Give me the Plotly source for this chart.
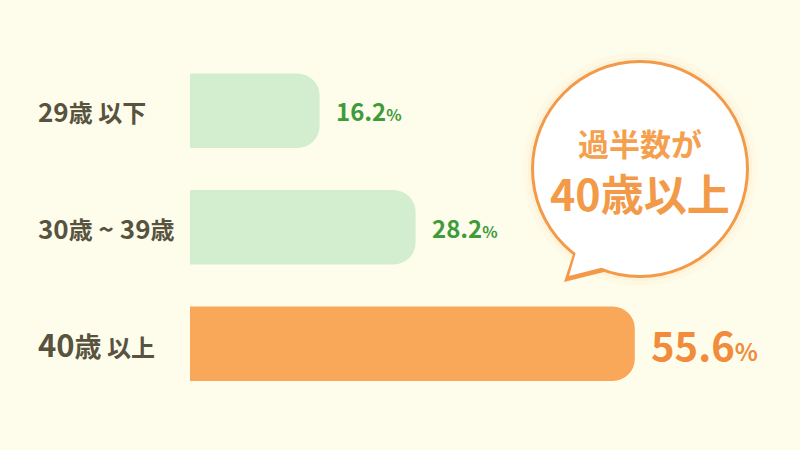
import plotly.graph_objects as go

categories = ["29歳 以下", "30歳～39歳", "40歳以上"]
values = [16.2, 28.2, 55.6]
bar_colors = ["#D3EDCF", "#D3EDCF", "#F9A859"]
value_colors = ["#3F9B3A", "#3F9B3A", "#F08C3C"]
bubble_lines = ["過半数が", "40歳以上"]

BG = "#FEFDEC"
LABEL = "#57533F"
ORANGE = "#F39A4A"
FONT = "Noto Sans CJK JP"

# rich text for the category labels (digits bigger than kanji)
label_html = [
    "<b>29<span style='font-size:24px'>歳 以下</span></b>",
    "<b>30<span style='font-size:24px'>歳</span> ~ 39<span style='font-size:24px'>歳</span></b>",
    "<b>40<span style='font-size:27px'>歳</span><span style='font-size:24px'> 以上</span></b>",
]
label_size = [26, 26, 31]
value_size = [24, 24, 40]
pct_size = [16, 16, 24]

fig = go.Figure()
fig.add_trace(go.Bar(
    x=values, y=categories, orientation="h",
    marker=dict(color=bar_colors, line=dict(width=0)),
    width=0.64, hoverinfo="skip",
))

for i, cat in enumerate(categories):
    fig.add_annotation(x=-0.252, y=cat, xref="paper", yref="y", text=label_html[i],
                       showarrow=False, xanchor="left", yanchor="middle",
                       font=dict(family=FONT, size=label_size[i], color=LABEL))
    fig.add_annotation(x=values[i], y=cat, xref="x", yref="y", xshift=14,
                       text=f"<b>{values[i]}<span style='font-size:{pct_size[i]}px'>%</span></b>",
                       showarrow=False, xanchor="left", yanchor="middle",
                       font=dict(family=FONT, size=value_size[i], color=value_colors[i]))

# speech bubble (anchored in data units, sized in pixels)
cx, cy = 56.25, 0.5
r = 107
bubble = dict(xref="x", yref="y", xsizemode="pixel", ysizemode="pixel",
              xanchor=cx, yanchor=cy, layer="above")
for rr, op in [(117, 0.10), (112, 0.18)]:
    fig.add_shape(type="circle", x0=-rr, x1=rr, y0=-rr, y1=rr,
                  fillcolor="#FAD7A8", opacity=op, line=dict(width=0), **bubble)
fig.add_shape(type="circle", x0=-r - 2, x1=r + 2, y0=-r - 2, y1=r + 2,
              fillcolor=ORANGE, line=dict(width=0), **bubble)
fig.add_shape(type="path", path="M -64,-76 L -76,-113 L -24,-100 Z",
              fillcolor=ORANGE, line=dict(width=0), **bubble)
fig.add_shape(type="path", path="M -62,-76 L -71,-107 L -28,-96 Z",
              fillcolor="white", line=dict(width=0), **bubble)
fig.add_shape(type="circle", x0=-r + 1, x1=r - 1, y0=-r + 1, y1=r - 1,
              fillcolor="white", line=dict(width=0), **bubble)

fig.add_annotation(x=cx, y=cy, xref="x", yref="y", yshift=27, text=f"<b>{bubble_lines[0]}</b>",
                   showarrow=False, font=dict(family=FONT, size=31, color="#F4A04E"))
fig.add_annotation(x=cx, y=cy, xref="x", yref="y", yshift=-23, text=f"<b>{bubble_lines[1]}</b>",
                   showarrow=False, font=dict(family=FONT, size=43, color="#F39A48"))

fig.update_layout(
    width=800, height=450,
    margin=dict(l=190, r=0, t=52, b=48),
    paper_bgcolor=BG, plot_bgcolor=BG,
    showlegend=False, barcornerradius=22,
    xaxis=dict(range=[0, 76.25], visible=False, fixedrange=True),
    yaxis=dict(autorange="reversed", visible=False, fixedrange=True),
)

fig.write_html("out.html", config={"displayModeBar": False, "staticPlot": True},
               post_script="document.body.style.margin='0';document.body.style.background='" + BG + "';")
